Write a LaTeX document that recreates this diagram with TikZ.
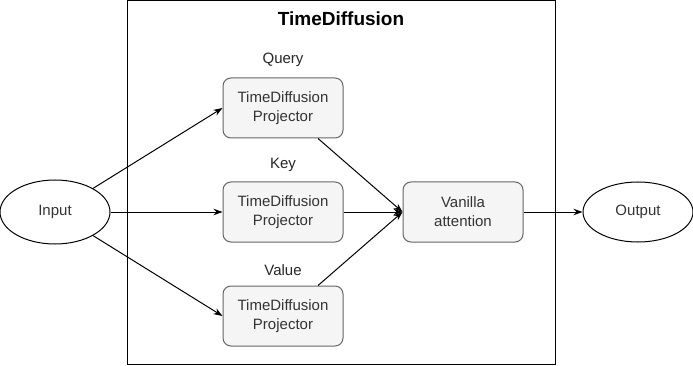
\documentclass[tikz,border=0pt]{standalone}
\usepackage{fontspec}
\setmainfont{Liberation Sans}
\usetikzlibrary{arrows.meta,shapes.geometric}

\definecolor{boxfill}{HTML}{F5F5F5}
\definecolor{boxline}{HTML}{666666}
\definecolor{boxtext}{HTML}{333333}

\tikzset{
  proj/.style={draw=boxline, fill=boxfill, text=boxtext, rounded corners=8pt,
    minimum width=120pt, minimum height=60pt, inner sep=0pt, align=center,
    font=\fontsize{15}{19}\selectfont},
  io/.style={ellipse, draw, text=boxtext, minimum width=110pt, minimum height=64pt,
    inner sep=0pt, font=\fontsize{15}{19}\selectfont},
  lbl/.style={text=black!85, font=\fontsize{15}{19}\selectfont},
}

\begin{document}
\begin{tikzpicture}[x=1pt, y=-1pt, line width=1pt, >={Stealth[length=9pt,width=6.5pt]}]
    \useasboundingbox (0,0) rectangle (693,366);
    % outer block
    \draw (127,1) rectangle (555,364);
    \node[font=\fontsize{19}{22}\selectfont\bfseries] (title) at (341,19) {TimeDiffusion};
    % input and output
    \node[io] (in) at (55,212) {Input};
    \node[io, minimum height=60pt] (out) at (638,212) {Output};
    % projectors
    \node[proj] (q) at (283,108) {TimeDiffusion\\Projector};
    \node[proj] (k) at (283,212) {TimeDiffusion\\Projector};
    \node[proj] (v) at (283,316) {TimeDiffusion\\Projector};
    \node[lbl] (lq) at (283,60) {Query};
    \node[lbl] (lk) at (283,165) {Key};
    \node[lbl] (lv) at (283,270) {Value};
    \node[proj] (att) at (463,212) {Vanilla\\attention};
    % connections
    \draw[->] (in) -- (q.west);
    \draw[->] (in) -- (k.west);
    \draw[->] (in) -- (v.west);
    \draw[->] (q) -- (att.west);
    \draw[->] (k) -- (att.west);
    \draw[->] (v) -- (att.west);
    \draw[->] (att) -- (out);
\end{tikzpicture}
\end{document}
